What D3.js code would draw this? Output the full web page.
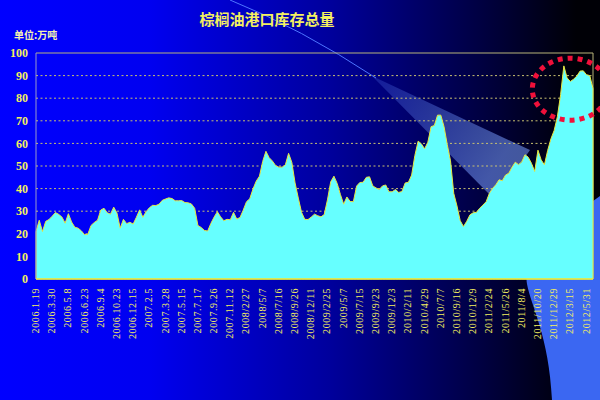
<!DOCTYPE html>
<html lang="zh">
<head>
    <meta charset="UTF-8">
    <title>棕榈油港口库存总量</title>
    <style>
        body{
            margin: 0;
            overflow: hidden;
        }
        svg{
            display: block;
        }
        .ylab text{
            font-family: "Liberation Serif", serif;
            font-weight: bold;
            font-size: 12px;
            fill: #f4f060;
        }
        .xlab text{
            font-family: "Liberation Serif", serif;
            font-size: 10px;
            letter-spacing: 0.6px;
            fill: #f4f060;
        }
        .grid line{
            stroke: #c8c070;
            stroke-width: 1px;
            stroke-dasharray: 2,2.5;
        }
        .stock{
            fill: #66ffff;
            stroke: #e8e840;
            stroke-width: 1px;
        }
    </style>
    <script src="https://cdn.jsdelivr.net/npm/d3@7"></script>
</head>
<body>
<script>

    // 库存 (万吨), 5 points per label step
    const stock = [
        21, 26, 21, 25.5, 26.3, 27.8, 29.4, 28.6, 27.4, 24.7,
        28.9, 25.2, 22.9, 22.5, 21.3, 19.6, 19.8, 23.7, 25, 26,
        30.5, 31.3, 29.3, 28.7, 31.8, 29.2, 22.5, 26.4, 24.5, 25.1,
        24.3, 27.3, 30.6, 27.3, 29.8, 31.5, 32.6, 32.5, 33.1, 34.8,
        35.4, 35.9, 35.6, 34.6, 34.6, 34.7, 33.8, 33.7, 33.2, 31.3,
        23.7, 22.8, 21.5, 21.2, 24.6, 27.4, 29.8, 27.5, 25.8, 26.4,
        26.2, 29.5, 26.5, 27.2, 30.5, 34.2, 35.5, 39.8, 43.3, 45.5,
        52, 56.5, 53.7, 52.2, 50.2, 49.5, 49.5, 50.5, 55.6, 51.6,
        42.5, 35.8, 29.5, 26.4, 26.3, 27.4, 28.7, 28, 27.5, 28.5,
        35, 43, 45.5, 42.3, 37.4, 33.1, 36.3, 34.3, 34.2, 41.1,
        42.7, 42.8, 45, 45.2, 41.2, 40.3, 39.6, 41.2, 41.6, 38.6,
        38.6, 39.6, 38.3, 38.7, 42.5, 42.8, 46, 54.7, 61, 59.8,
        57.6, 60.5, 67.4, 67.9, 72.5, 72.5, 67.4, 59.4, 52.3, 37.9,
        32.3, 25.8, 23.2, 25.5, 28.4, 29.3, 29.5, 31.3, 32.7, 34.2,
        37.9, 40.1, 41.7, 43.9, 43.5, 46, 46.8, 49.5, 51.7, 50.6,
        51.8, 55, 53.9, 51.2, 47.6, 57, 52.7, 50.5, 56.9, 62,
        65.7, 71.8, 81.6, 94.3, 89, 87.4, 88.4, 89.8, 92, 92.1,
        90.4, 90, 84.3
    ];

    const dateLabels = [
        "2006.1.19", "2006.3.30", "2006.5.8", "2006.6.23", "2006.9.4",
        "2006.10.23", "2006.12.15", "2007.2.5", "2007.3.28", "2007.5.15",
        "2007.7.17", "2007.9.26", "2007.11.12", "2008/2/27", "2008/5/7",
        "2008/7/16", "2008/9/26", "2008/12/11", "2009/2/25", "2009/5/7",
        "2009/7/15", "2009/9/23", "2009/12/3", "2010/2/11", "2010/4/29",
        "2010/7/7", "2010/9/16", "2010/12/9", "2011/2/24", "2011/5/26",
        "2011/8/4", "2011/10/20", "2011/12/29", "2012/3/15", "2012/5/31"
    ];
    const labelStep = 5;

    const yTicks = [0, 10, 20, 30, 40, 50, 60, 70, 80, 90, 100];

    const title = "棕榈油港口库存总量";
    const unit = "单位:万吨";

    const width = 600;
    const height = 400;
    const margins = {
        top: 53,
        bottom: 121,
        left: 36,
        right: 7
    }

    const svg = d3.select("body").append("svg")
        .attr("width", width)
        .attr("height", height);

    const defs = svg.append("defs");
    const bg = defs.append("linearGradient")
        .attr("id", "bg")
        .attr("x1", "0%").attr("x2", "100%")
        .attr("y1", "0%").attr("y2", "0%");
    [[0, "#0000ff"], [0.25, "#0000f0"], [0.55, "#00009c"], [0.8, "#000042"], [0.96, "#000006"]]
        .forEach(s => bg.append("stop").attr("offset", s[0]).attr("stop-color", s[1]));

    const beam = defs.append("linearGradient")
        .attr("id", "beam")
        .attr("gradientUnits", "userSpaceOnUse")
        .attr("x1", 372).attr("y1", 76)
        .attr("x2", 500).attr("y2", 160);
    beam.append("stop").attr("offset", 0).attr("stop-color", "#6088ff").attr("stop-opacity", 0.2);
    beam.append("stop").attr("offset", 1).attr("stop-color", "#7a9fff").attr("stop-opacity", 0.55);

    // background
    svg.append("rect")
        .attr("width", width)
        .attr("height", height)
        .attr("fill", "url(#bg)");

    svg.append("path")
        .attr("d", "M600,196 C558,226 522,258 527,284 C531,306 549,336 552,400 L600,400 Z")
        .attr("fill", "#3b67f2");

    // light beam
    svg.append("path")
        .attr("d", "M230,0 Q300,28 376,78")
        .attr("fill", "none")
        .attr("stroke", "#4d74ff")
        .attr("stroke-width", 1);
    svg.append("path")
        .attr("d", "M372,76 L530,150 L495,200 Z")
        .attr("fill", "url(#beam)");

    // scales
    const xScale = d3.scaleLinear()
        .domain([0, stock.length - 1])
        .range([margins.left, width - margins.right]);
    const yScale = d3.scaleLinear()
        .domain([0, 100])
        .range([height - margins.bottom, margins.top]);

    // grid lines
    svg.append("g")
        .attr("class", "grid")
        .selectAll("line")
        .data(yTicks.filter(d => d > 0 && d < 100))
        .enter()
        .append("line")
        .attr("x1", margins.left)
        .attr("x2", width - margins.right)
        .attr("y1", d => yScale(d))
        .attr("y2", d => yScale(d));

    // frame
    svg.append("path")
        .attr("d", `M${margins.left},${yScale(100)} H${width - margins.right} V${yScale(0)}`)
        .attr("fill", "none")
        .attr("stroke", "#b8b47a")
        .attr("stroke-width", 1);

    // area
    const areaGen = d3.area()
        .x((d, i) => xScale(i))
        .y0(yScale(0))
        .y1(d => yScale(d));
    svg.append("path")
        .datum(stock)
        .attr("class", "stock")
        .attr("d", areaGen);

    // axes lines
    svg.append("line")
        .attr("x1", margins.left).attr("x2", margins.left)
        .attr("y1", yScale(100)).attr("y2", yScale(0))
        .attr("stroke", "#9a9ac8");
    svg.append("line")
        .attr("x1", margins.left).attr("x2", width - margins.right)
        .attr("y1", yScale(0)).attr("y2", yScale(0))
        .attr("stroke", "#e8e840")
        .attr("stroke-width", 1.5);

    // y labels
    svg.append("g")
        .attr("class", "ylab")
        .selectAll("text")
        .data(yTicks)
        .enter()
        .append("text")
        .attr("x", margins.left - 8)
        .attr("y", d => yScale(d))
        .attr("dy", "0.35em")
        .attr("text-anchor", "end")
        .text(d => d);

    // x labels, rotated
    svg.append("g")
        .attr("class", "xlab")
        .selectAll("text")
        .data(dateLabels)
        .enter()
        .append("text")
        .attr("transform", (d, i) => `translate(${xScale(i * labelStep) - 0.5},${yScale(0) + 9}) rotate(-90)`)
        .attr("dy", "0.35em")
        .attr("text-anchor", "end")
        .text(d => d);

    // highlight ellipse
    svg.append("ellipse")
        .attr("cx", xScale(165))
        .attr("cy", yScale(84))
        .attr("rx", 38)
        .attr("ry", 31)
        .attr("fill", "none")
        .attr("stroke", "#f0103a")
        .attr("stroke-width", 5)
        .attr("stroke-dasharray", "5,5");

    // title & unit
    svg.append("text")
        .attr("x", 267)
        .attr("y", 25)
        .attr("text-anchor", "middle")
        .attr("font-family", "'Noto Sans CJK SC', sans-serif")
        .attr("font-weight", "bold")
        .attr("font-size", "15px")
        .attr("fill", "#f4f060")
        .text(title);
    svg.append("text")
        .attr("x", 14)
        .attr("y", 39)
        .attr("font-family", "'Noto Sans CJK SC', sans-serif")
        .attr("font-weight", "bold")
        .attr("font-size", "10px")
        .attr("fill", "#f4f0b0")
        .text(unit);

</script>
</body>
</html>
